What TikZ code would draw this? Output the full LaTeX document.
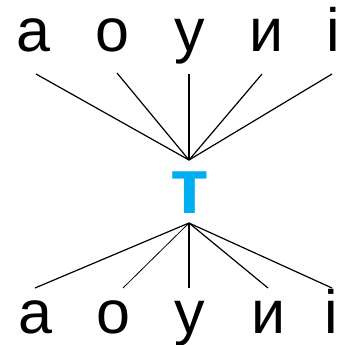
\documentclass[tikz,border=0pt]{standalone}
\usepackage{fontspec}
\setmainfont{Liberation Sans}
\definecolor{tblue}{HTML}{00AEEF}
\begin{document}
\begin{tikzpicture}[x=1pt,y=-1pt,
  letter/.style={anchor=base,inner sep=0pt,font=\fontsize{61}{61}\selectfont},
  link/.style={line width=1.2pt,black}]
\useasboundingbox (0,0) rectangle (344,345);
\clip (0,0) rectangle (344,345);
% top letters
\node[letter] (ta) at (33,52) {а};
\node[letter] (to) at (112,52) {о};
\node[letter] (tu) at (190,52) {у};
\node[letter] (ti) at (267,52) {и};
\node[letter] (tii) at (333,52) {і};
% bottom letters
\node[letter] (ba) at (35,333) {а};
\node[letter] (bo) at (113,333) {о};
\node[letter] (bu) at (190,333) {у};
\node[letter] (bi) at (269,333) {и};
\node[letter] (bii) at (331,333) {і};
% center
\node[inner sep=0pt,anchor=base,text=tblue,font=\fontsize{79}{79}\selectfont\bfseries] (t) at (189.5,213) {т};
% hubs and ends
\coordinate (hup) at (189,160);
\coordinate (hdn) at (189,223);
\coordinate (ea) at (36,74);
\coordinate (eo) at (117,73);
\coordinate (eu) at (189,74);
\coordinate (ei) at (262,74);
\coordinate (eii) at (332,74);
\coordinate (fa) at (35,288);
\coordinate (fo) at (123,288);
\coordinate (fu) at (189,288);
\coordinate (fi) at (268,288);
\coordinate (fii) at (332,288);
\foreach \e in {ea,eo,eu,ei,eii} \draw[link] (\e) -- (hup);
\foreach \f in {fa,fu,fi,fii} \draw[link] (hdn) -- (\f);
\draw[line width=0.8pt] (hdn) -- (fo);
\end{tikzpicture}
\end{document}
